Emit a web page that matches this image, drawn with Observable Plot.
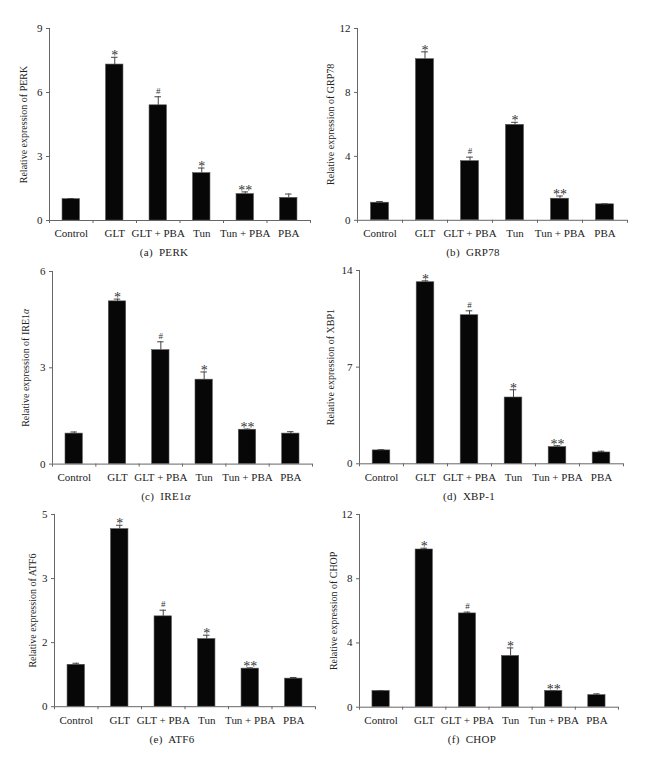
<!DOCTYPE html>
<html>
<head>
<meta charset="utf-8">
<script src="https://cdn.jsdelivr.net/npm/d3@7"></script>
<script src="https://cdn.jsdelivr.net/npm/@observablehq/plot@0.6"></script>
<style>
  html, body { margin: 0; padding: 0; background: #fff; }
  #root { position: relative; width: 649px; height: 758px; background: #fff; overflow: hidden; }
  .panel { position: absolute; }
  .cap { position: absolute; font-family: "Liberation Serif", "DejaVu Serif", serif; font-size: 11px; color: #222; transform: translate(-50%, -50%); white-space: nowrap; letter-spacing: 0.3px; }
</style>
</head>
<body>
<div id="root"></div>
<script>
// ---- data ----
const categories = ["Control", "GLT", "GLT + PBA", "Tun", "Tun + PBA", "PBA"];
const signif = ["", "*", "#", "*", "**", ""];

const perkMean = [1.00, 7.31, 5.40, 2.22, 1.24, 1.06];
const perkErr  = [0.03, 0.34, 0.40, 0.24, 0.10, 0.18];
const perkTicks = [0, 3, 6, 9];

const grp78Mean = [1.10, 10.08, 3.70, 5.97, 1.35, 1.00];
const grp78Err  = [0.07, 0.46, 0.25, 0.16, 0.17, 0.03];
const grp78Ticks = [0, 4, 8, 12];

const ire1Mean = [0.95, 5.07, 3.55, 2.63, 1.07, 0.95];
const ire1Err  = [0.05, 0.07, 0.26, 0.24, 0.02, 0.06];
const ire1Ticks = [0, 3, 6];

const xbp1Mean = [0.97, 13.15, 10.76, 4.80, 1.21, 0.82];
const xbp1Err  = [0.05, 0.10, 0.32, 0.56, 0.10, 0.09];
const xbp1Ticks = [0, 7, 14];

const atf6Mean = [1.09, 4.62, 2.35, 1.76, 0.99, 0.73];
const atf6Err  = [0.04, 0.10, 0.16, 0.10, 0.02, 0.03];
const atf6Ticks = [0, 5 / 3, 10 / 3, 5];
const atf6TickLabels = ["0", "2", "3", "5"];

const chopMean = [1.01, 9.82, 5.84, 3.19, 1.01, 0.75];
const chopErr  = [0.02, 0.08, 0.08, 0.50, 0.02, 0.08];
const chopTicks = [0, 4, 8, 12];

// ---- layout ----
const FONT = "Liberation Serif, DejaVu Serif, serif";
const panels = [
  {mean: perkMean, err: perkErr, ticks: perkTicks, label: "Relative expression of PERK", caption: "(a)&nbsp; PERK",
   left: 0, width: 325, axisX: 49, rightX: 310, topY: 27.5, axisY: 219.5, labelOff: 26, capX: 164, capY: 252},
  {mean: grp78Mean, err: grp78Err, ticks: grp78Ticks, label: "Relative expression of GRP78", caption: "(b)&nbsp; GRP78",
   left: 325, width: 324, axisX: 357, rightX: 627, topY: 27.7, axisY: 219.5, labelOff: 27, capX: 473, capY: 252},
  {mean: ire1Mean, err: ire1Err, ticks: ire1Ticks, label: "Relative expression of IRE1α", caption: "(c)&nbsp; IRE1<i>α</i>",
   left: 0, width: 325, axisX: 52, rightX: 312, topY: 270.7, axisY: 463.3, labelOff: 27, capX: 166, capY: 496},
  {mean: xbp1Mean, err: xbp1Err, ticks: xbp1Ticks, label: "Relative expression of XBP1", caption: "(d)&nbsp; XBP-1",
   left: 325, width: 324, axisX: 359, rightX: 623, topY: 270, axisY: 463.3, labelOff: 29, capX: 469, capY: 496},
  {mean: atf6Mean, err: atf6Err, ticks: atf6Ticks, tickLabels: atf6TickLabels, label: "Relative expression of ATF6", caption: "(e)&nbsp; ATF6",
   left: 0, width: 325, axisX: 54, rightX: 315, topY: 514.3, axisY: 706.5, labelOff: 22, capX: 172, capY: 739},
  {mean: chopMean, err: chopErr, ticks: chopTicks, label: "Relative expression of CHOP", caption: "(f)&nbsp; CHOP",
   left: 325, width: 324, axisX: 359, rightX: 618, topY: 514.3, axisY: 707, labelOff: 26, capX: 472, capY: 739}
];

const root = document.getElementById("root");

for (const p of panels) {
  const data = p.mean.map((v, i) => ({i, v, top: v + p.err[i], m: signif[i]}));
  const ymax = p.ticks[p.ticks.length - 1];
  const mt = 10, mb = 30;
  const svgTop = p.topY - mt;
  const height = (p.axisY - p.topY) + mt + mb;
  const idx = categories.map((_, i) => i);
  const bounds = d3.range(-0.5, 6, 1);
  const tf = p.tickLabels ? (d, k) => p.tickLabels[p.ticks.indexOf(d)] : d => String(d);

  const chart = Plot.plot({
    width: p.width,
    height,
    marginLeft: p.axisX - p.left,
    marginRight: p.left + p.width - p.rightX,
    marginTop: mt,
    marginBottom: mb,
    x: {domain: [-0.5, 5.5], axis: null},
    y: {domain: [0, ymax], axis: null},
    style: {fontFamily: FONT, fontSize: "11px", color: "#222", background: "transparent"},
    marks: [
      Plot.rect(data, {x1: d => d.i - 0.2, x2: d => d.i + 0.2, y1: 0, y2: "v", fill: "#070707", stroke: "#555", strokeWidth: 0.6}),
      Plot.ruleX(data, {x: "i", y1: "v", y2: "top", stroke: "#444", strokeWidth: 1}),
      Plot.ruleY(data, {y: "top", x1: d => d.i - 0.075, x2: d => d.i + 0.075, stroke: "#444", strokeWidth: 1}),
      Plot.text(data.filter(d => d.m === "#"), {x: "i", y: "top", text: "m", fontSize: 9, lineAnchor: "bottom", dy: -3, fill: "#333", fontFamily: FONT}),
      Plot.text(data.filter(d => d.m && d.m !== "#"), {x: "i", y: "top", text: "m", fontSize: 14, lineAnchor: "bottom", dy: 3, fill: "#333", fontFamily: FONT}),
      Plot.ruleX([-0.5], {y1: 0, y2: ymax, stroke: "#666", strokeWidth: 1}),
      Plot.ruleY([0], {x1: -0.5, x2: 5.5, stroke: "#666", strokeWidth: 1}),
      Plot.axisY({ticks: p.ticks, tickFormat: tf, tickSize: 3, tickPadding: 4, anchor: "left", label: null, stroke: "#666"}),
      Plot.axisX({ticks: bounds, tickFormat: () => "", tickSize: 3, anchor: "bottom", label: null, stroke: "#666"}),
      Plot.axisX({ticks: idx, tickFormat: i => categories[i], tickSize: 0, tickPadding: 9, anchor: "bottom", label: null}),
      Plot.text([p.label], {frameAnchor: "left", rotate: -90, dx: -p.labelOff, textAnchor: "middle", lineAnchor: "middle", fontSize: 10, fill: "#222", fontFamily: FONT})
    ]
  });

  // italicise the Greek alpha in the axis label
  chart.querySelectorAll("text").forEach(t => {
    if (t.textContent.includes("α") && t.childElementCount === 0) {
      const txt = t.textContent;
      const k = txt.indexOf("α");
      t.textContent = txt.slice(0, k);
      const ts = document.createElementNS("http://www.w3.org/2000/svg", "tspan");
      ts.setAttribute("font-style", "italic");
      ts.textContent = "α";
      t.appendChild(ts);
      if (k + 1 < txt.length) t.appendChild(document.createTextNode(txt.slice(k + 1)));
    }
  });

  const div = document.createElement("div");
  div.className = "panel";
  div.style.left = p.left + "px";
  div.style.top = svgTop + "px";
  div.appendChild(chart);
  root.appendChild(div);

  const cap = document.createElement("div");
  cap.className = "cap";
  cap.style.left = p.capX + "px";
  cap.style.top = p.capY + "px";
  cap.innerHTML = p.caption;
  root.appendChild(cap);
}
</script>
</body>
</html>
